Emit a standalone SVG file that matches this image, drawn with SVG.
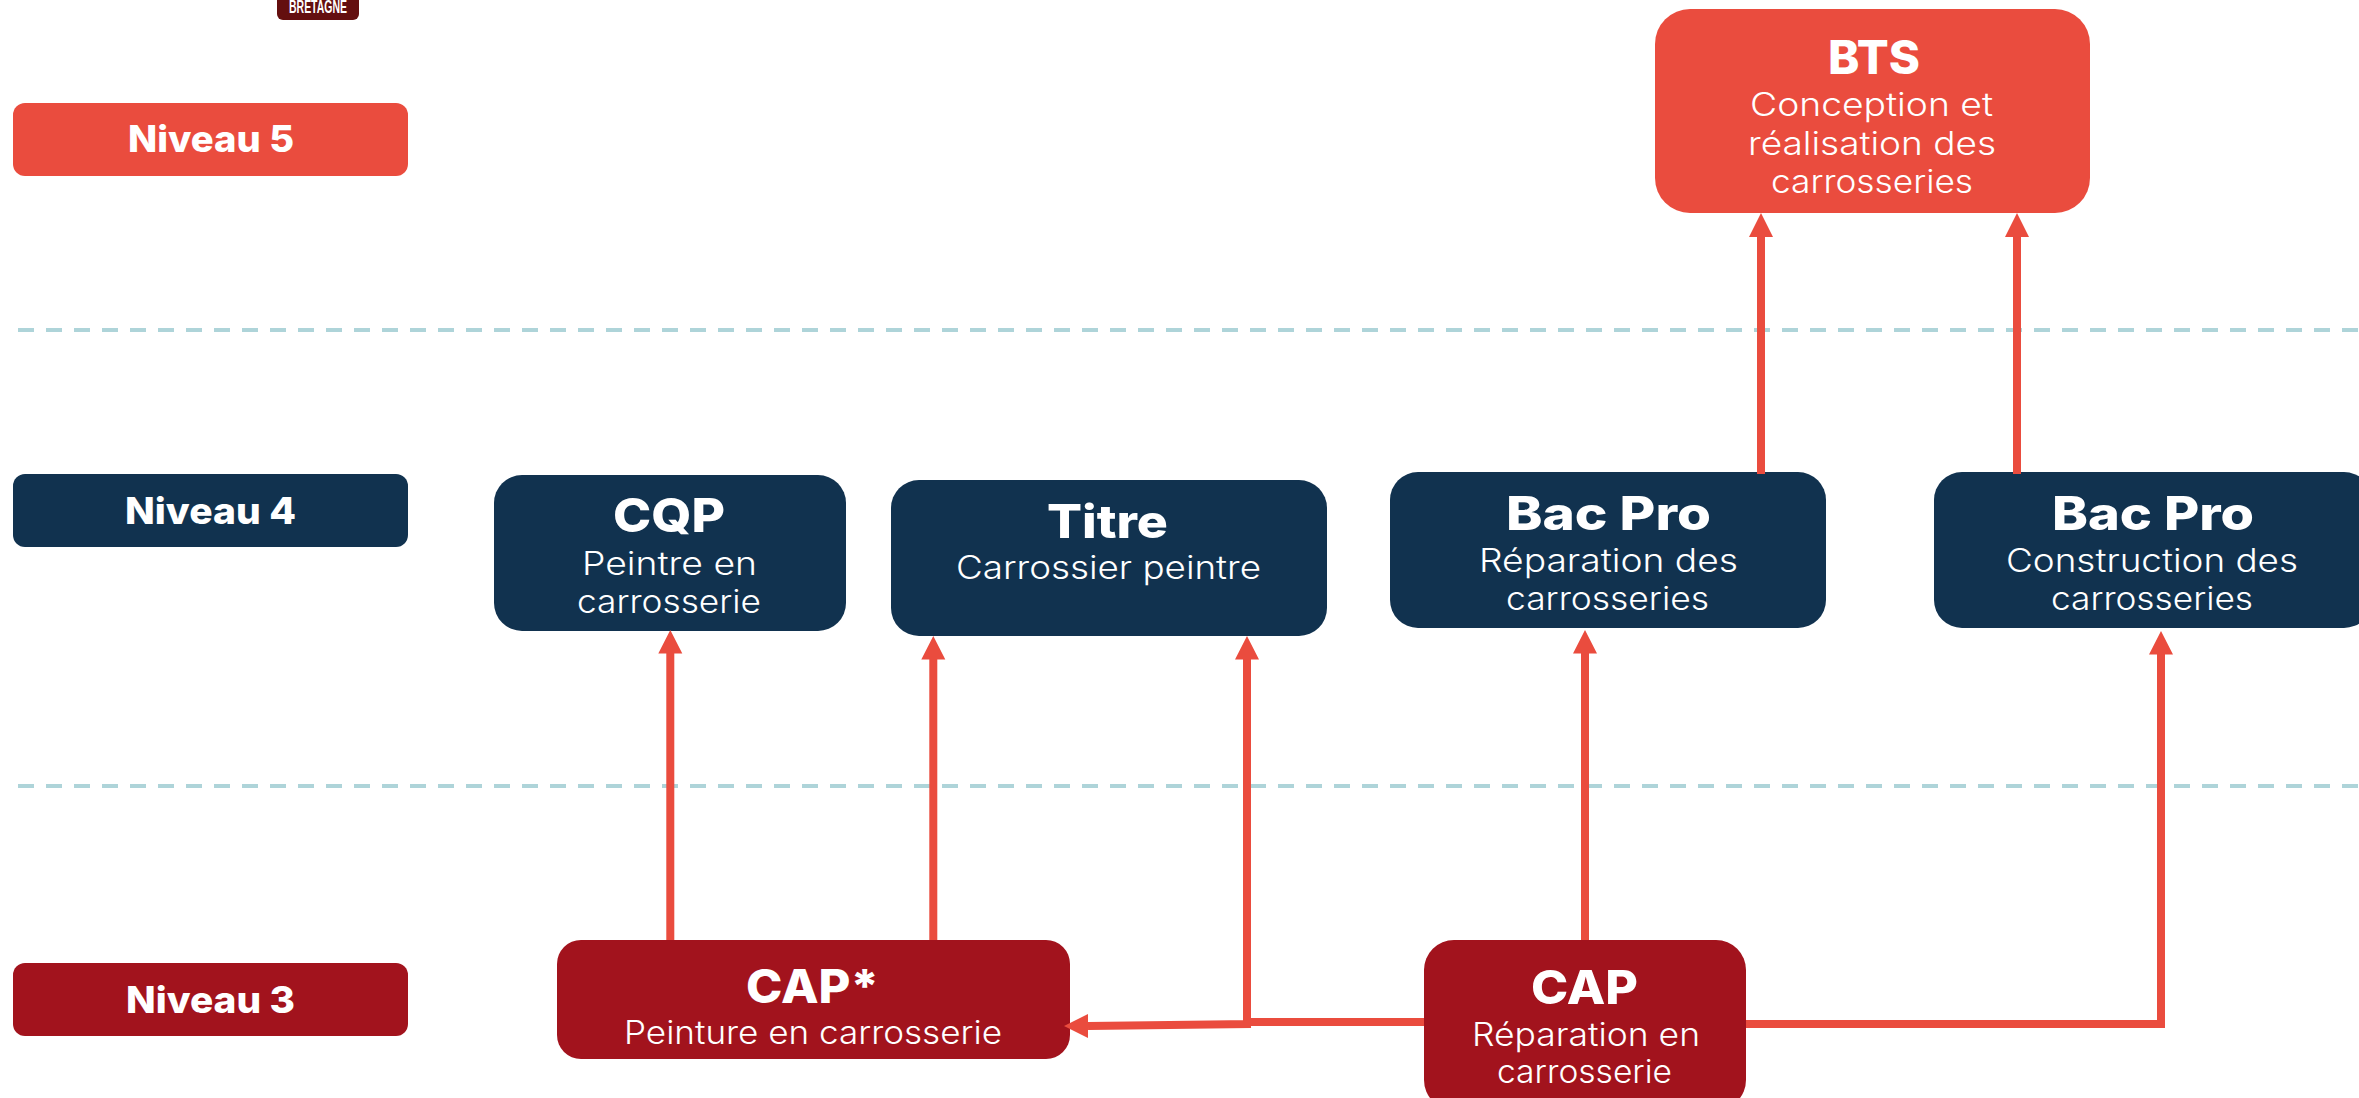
<svg xmlns="http://www.w3.org/2000/svg" width="2359" height="1098" viewBox="0 0 2359 1098">
<style>
text{fill:#fff;font-family:Inter,"Open Sans","Liberation Sans",sans-serif}
.lv{font-size:37px;font-weight:800}
.t{font-size:46px;font-weight:800}
.s{font-size:32px;font-weight:300}
.red{fill:#ea4c3e}.navy{fill:#11324f}.dark{fill:#a2131d}
.dash{stroke:#aed4d9;stroke-width:4;stroke-dasharray:16 12;fill:none}
.c{stroke:#ea4c3e;stroke-width:8;fill:none}
.h{fill:#ea4c3e}
</style>
<rect width="2359" height="1098" fill="#fff"/>
<g id="bretagne"><rect x="277" y="-20" width="82" height="40" rx="6" fill="#640f0f"/><text x="289" y="13" font-size="18" font-weight="700" textLength="58" lengthAdjust="spacingAndGlyphs" style="font-family:'Liberation Sans',sans-serif">BRETAGNE</text></g>
<g id="separators"><line class="dash" x1="18" y1="330" x2="2359" y2="330"/><line class="dash" x1="18" y1="786" x2="2359" y2="786"/></g>
<g id="niveau5"><rect class="red" x="13" y="103" width="395" height="73" rx="12"/><text class="lv" x="128" y="152" textLength="166" lengthAdjust="spacingAndGlyphs">Niveau 5</text></g>
<g id="niveau4"><rect class="navy" x="13" y="474" width="395" height="73" rx="12"/><text class="lv" x="125" y="524" textLength="171" lengthAdjust="spacingAndGlyphs">Niveau 4</text></g>
<g id="niveau3"><rect class="dark" x="13" y="963" width="395" height="73" rx="12"/><text class="lv" x="126" y="1013" textLength="169" lengthAdjust="spacingAndGlyphs">Niveau 3</text></g>
<g id="bts"><rect class="red" x="1655" y="9" width="435" height="204" rx="35"/><text class="t" x="1828" y="74" textLength="92" lengthAdjust="spacingAndGlyphs">BTS</text><text class="s" x="1750" y="116" textLength="243" lengthAdjust="spacingAndGlyphs">Conception et</text><text class="s" x="1748" y="155" textLength="248" lengthAdjust="spacingAndGlyphs">réalisation des</text><text class="s" x="1771" y="193" textLength="202" lengthAdjust="spacingAndGlyphs">carrosseries</text></g>
<g id="cqp"><rect class="navy" x="494" y="475" width="352" height="156" rx="28"/><text class="t" x="613" y="532" textLength="112" lengthAdjust="spacingAndGlyphs">CQP</text><text class="s" x="582" y="575" textLength="175" lengthAdjust="spacingAndGlyphs">Peintre en</text><text class="s" x="577" y="613" textLength="184" lengthAdjust="spacingAndGlyphs">carrosserie</text></g>
<g id="titre"><rect class="navy" x="891" y="480" width="436" height="156" rx="28"/><text class="t" x="1047" y="538" textLength="121" lengthAdjust="spacingAndGlyphs">Titre</text><text class="s" x="956" y="579" textLength="305" lengthAdjust="spacingAndGlyphs">Carrossier peintre</text></g>
<g id="bacpro-reparation"><rect class="navy" x="1390" y="472" width="436" height="156" rx="28"/><text class="t" x="1506" y="530" textLength="205" lengthAdjust="spacingAndGlyphs">Bac Pro</text><text class="s" x="1479" y="572" textLength="259" lengthAdjust="spacingAndGlyphs">Réparation des</text><text class="s" x="1506" y="610" textLength="203" lengthAdjust="spacingAndGlyphs">carrosseries</text></g>
<g id="bacpro-construction"><rect class="navy" x="1934" y="472" width="438" height="156" rx="28"/><text class="t" x="2052" y="530" textLength="202" lengthAdjust="spacingAndGlyphs">Bac Pro</text><text class="s" x="2006" y="572" textLength="292" lengthAdjust="spacingAndGlyphs">Construction des</text><text class="s" x="2051" y="610" textLength="202" lengthAdjust="spacingAndGlyphs">carrosseries</text></g>
<g id="capstar"><rect class="dark" x="557" y="940" width="513" height="119" rx="24"/><text class="t" x="746" y="1003" textLength="133" lengthAdjust="spacingAndGlyphs">CAP*</text><text class="s" x="624" y="1044" textLength="378" lengthAdjust="spacingAndGlyphs">Peinture en carrosserie</text></g>
<g id="cap"><rect class="dark" x="1424" y="940" width="322" height="170" rx="30"/><text class="t" x="1531" y="1004" textLength="107" lengthAdjust="spacingAndGlyphs">CAP</text><text class="s" x="1472" y="1046" textLength="228" lengthAdjust="spacingAndGlyphs">Réparation en</text><text class="s" x="1497" y="1083" textLength="175" lengthAdjust="spacingAndGlyphs">carrosserie</text></g>
<g id="connectors">
<path class="c" d="M1761 474V234M2017 474V234M670.300 940V650M933.300 940V656M1247 1028V656M1585 940V650M2161 1028V650"/>
<path class="c" d="M1424 1022H1247M1251 1024L1088 1026M1746 1024H2165"/>
<path class="h" d="M1761 213l-12 24h24zM2017 213l-12 24h24zM670.300 630l-12 23.500h24zM933.300 636l-12 23.500h24zM1247 636l-12 23.500h24zM1585 630l-12 23.500h24zM2161 631l-12 23.500h24zM1064 1026l24-12v24z"/>
</g>
</svg>
